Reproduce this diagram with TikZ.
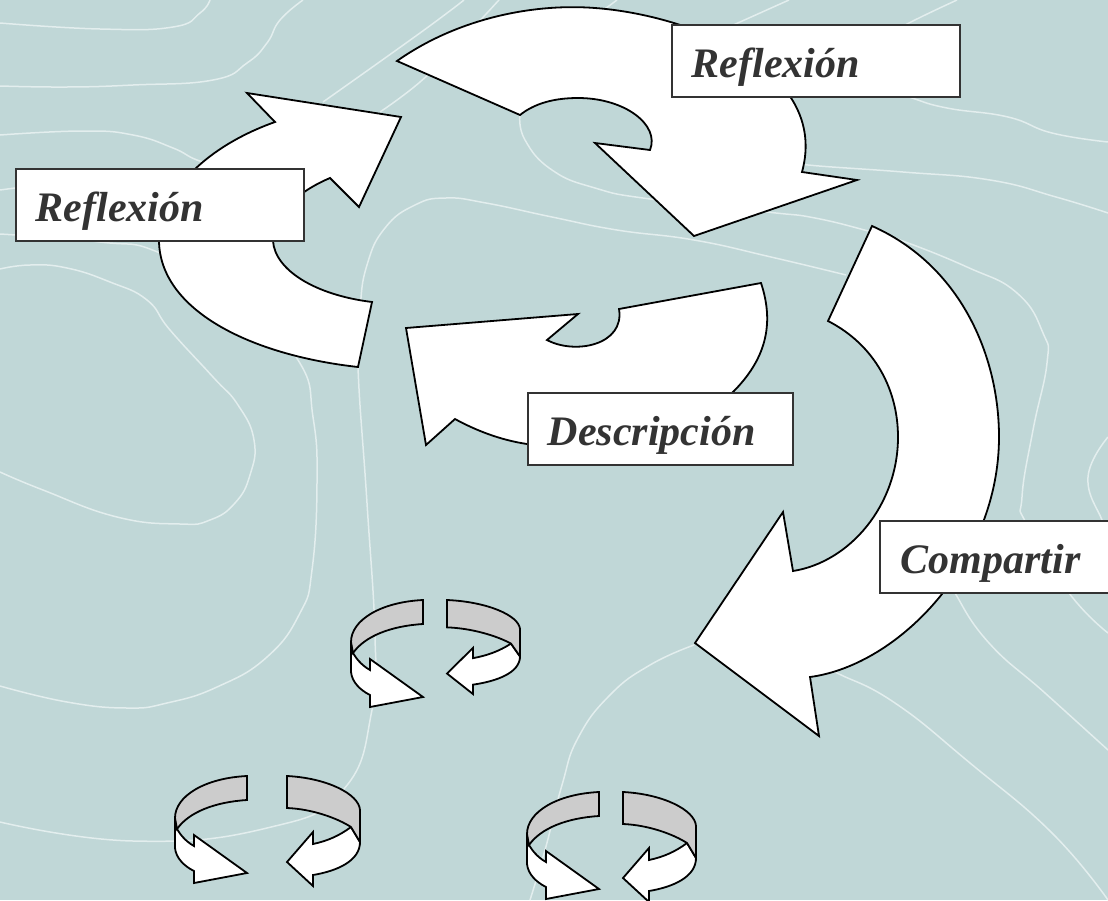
\documentclass[tikz,border=0pt]{standalone}
\usepackage{fontspec}
\setmainfont{Liberation Serif}
\definecolor{bgteal}{HTML}{C0D7D7}
\definecolor{contourline}{HTML}{E3EEEE}
\definecolor{bandgray}{HTML}{CCCCCC}
\definecolor{textgray}{HTML}{333333}
\tikzset{
  contour/.style={draw=contourline,line width=1.5pt},
  bigarrow/.style={draw=black,fill=white,line width=1.8pt},
  miniband/.style={draw=black,fill=bandgray,line width=1.8pt},
  miniarrow/.style={draw=black,fill=white,line width=1.8pt},
  labelbox/.style={draw=textgray,fill=white,line width=1.8pt,anchor=north west,minimum height=72pt,
    inner ysep=0pt,inner xsep=0pt,align=left,text=textgray,text height=38pt,text depth=5pt,
    font=\fontsize{42}{50}\selectfont\bfseries\itshape},
  pics/spinleft/.style={code={
    \draw[miniarrow] (0,42) -- (0,72) .. controls (1,82) and (9,90) .. (19,95) -- (19,107) -- (72,97) -- (19,59) -- (19,70)
      .. controls (10,65) and (5,58) .. (2,53) -- cycle;
    \draw[miniband] (72,0) -- (72,24) .. controls (40,26) and (14,36) .. (2,53)
      -- (0,42) .. controls (0,20) and (30,2) .. (72,0) -- cycle;
  }},
  pics/spinright/.style={code={
    \draw[miniarrow] (64,51) .. controls (52,60) and (40,65) .. (26,68) -- (26,56) -- (0,86) -- (26,110) -- (26,99)
      .. controls (50,95) and (73,85) .. (73,66) -- cycle;
    \draw[miniband] (0,0) -- (0,32) .. controls (25,33) and (50,42) .. (64,51)
      -- (73,66) -- (73,34) .. controls (72,18) and (40,2) .. (0,0) -- cycle;
  }}
}

\begin{document}
\begin{tikzpicture}[x=1pt,y=-1pt,every plot/.style={tension=.8}]
\clip (0,0) rectangle (1108,900);
\fill[bgteal] (0,0) rectangle (1108,900);

% background lines
\draw[contour] plot[smooth] coordinates {(210,0) (200,13) (173,27) (100,29) (0,23)};
\draw[contour] plot[smooth] coordinates {(303,0) (280,20) (267,43) (247,63) (213,80) (133,85) (67,87) (0,86)};
\draw[contour] plot[smooth] coordinates {(0,135) (83,131) (133,135) (173,148) (197,160) (230,170)};
\draw[contour] (0,190) -- (30,186);
\draw[contour] plot[smooth] coordinates {(0,234) (100,242) (160,253) (240,300) (298,360) (313,417) (317,483) (312,570) (300,613) (267,657) (217,687) (167,703) (127,708) (67,702) (0,686)};
\draw[contour] plot[smooth] coordinates {(323,102) (420,33) (464,0)};
\draw[contour] plot[smooth] coordinates {(380,112) (420,82) (455,47) (499,0)};
\draw[contour] (590,20) -- (617,0);
\draw[contour] plot[smooth] coordinates {(700,40) (740,22) (789,0)};
\draw[contour] plot[smooth] coordinates {(880,40) (909,23) (957,0)};
\draw[contour] plot[smooth] coordinates {(860,80) (909,97) (947,108) (1008,117) (1052,133) (1108,142)};
\draw[contour] plot[smooth] coordinates {(780,160) (808,165) (903,172) (990,180) (1056,197) (1108,213)};
\draw[contour] plot[smooth] coordinates {(520,115) (525,140) (552,170) (595,188) (650,199) (767,212) (815,218) (872,232) (900,240) (967,267) (1017,293) (1043,333) (1047,363) (1033,430) (1022,497) (1027,525) (1069,593) (1108,633)};
\draw[contour] plot[smooth] coordinates {(846,275) (771,257) (694,240) (617,230) (552,217) (486,203) (446,198) (415,205) (385,228) (367,265) (360,310) (358,367) (367,503) (375,637) (372,710) (343,790) (267,828) (133,841) (0,822)};
\draw[contour] plot[smooth] coordinates {(0,269) (30,265) (67,268) (110,282) (147,300) (170,330) (213,377) (238,405) (254,440) (250,475) (235,503) (210,520) (180,524) (117,517) (43,490) (0,472)};
\draw[contour] plot[smooth] coordinates {(694,645) (650,665) (610,695) (578,738) (562,785) (545,850) (530,900)};
\draw[contour] plot[smooth] coordinates {(810,660) (837,673) (895,703) (970,763) (1052,833) (1108,900)};
\draw[contour] plot[smooth] coordinates {(945,570) (955,593) (989,643) (1045,693) (1108,750)};
\draw[contour] plot[smooth] coordinates {(1108,437) (1088,477) (1102,520) (1108,530)};

% big arrows
\draw[bigarrow] (397,61) .. controls (455,20) and (530,3) .. (595,8) .. controls (690,15) and (830,70) .. (802,172)
  -- (857,180) -- (694,236) -- (595,143) -- (650,150)
  .. controls (660,125) and (625,98) .. (578,98) .. controls (555,98) and (535,103) .. (520,115) -- cycle;
\draw[bigarrow] (247,93) -- (401,117) -- (359,207) -- (330,178)
  .. controls (290,195) and (272,220) .. (273,241) .. controls (275,270) and (315,295) .. (372,302) -- (358,367)
  .. controls (250,355) and (160,310) .. (159,241) .. controls (160,190) and (210,145) .. (275,122) -- cycle;
\draw[bigarrow] (406,328) -- (578,314) -- (547,340)
  .. controls (575,355) and (625,345) .. (619,309) -- (761,283)
  .. controls (775,325) and (765,360) .. (733,392) -- (700,420) -- (527,444)
  .. controls (500,440) and (475,430) .. (455,419) -- (426,445) -- cycle;
\draw[bigarrow] (872,226) -- (828,321)
  .. controls (875,345) and (898,390) .. (898,437) .. controls (898,505) and (850,562) .. (793,571) -- (783,512) -- (695,643) -- (819,736) -- (810,677)
  .. controls (900,665) and (999,560) .. (999,437) .. controls (999,355) and (960,265) .. (872,226) -- cycle;

\node[labelbox,minimum width=288pt,text width=248pt] (boxtop) at (671,24) {Reflexi\'on};
\node[labelbox,minimum width=288pt,text width=248pt] (boxleft) at (15,168) {Reflexi\'on};
\node[labelbox,minimum width=265pt,text width=225pt] (boxdesc) at (527,392) {Descripci\'on};
\node[labelbox,minimum width=260pt,text width=218pt] (boxshare) at (879,520) {Compartir};

% small turning arrows
\pic at (351,600) {spinleft};
\pic[yscale=.855] at (447,600) {spinright};
\pic at (175,776) {spinleft};
\pic at (287,776) {spinright};
\pic at (527,792) {spinleft};
\pic at (623,792) {spinright};
\end{tikzpicture}
\end{document}
